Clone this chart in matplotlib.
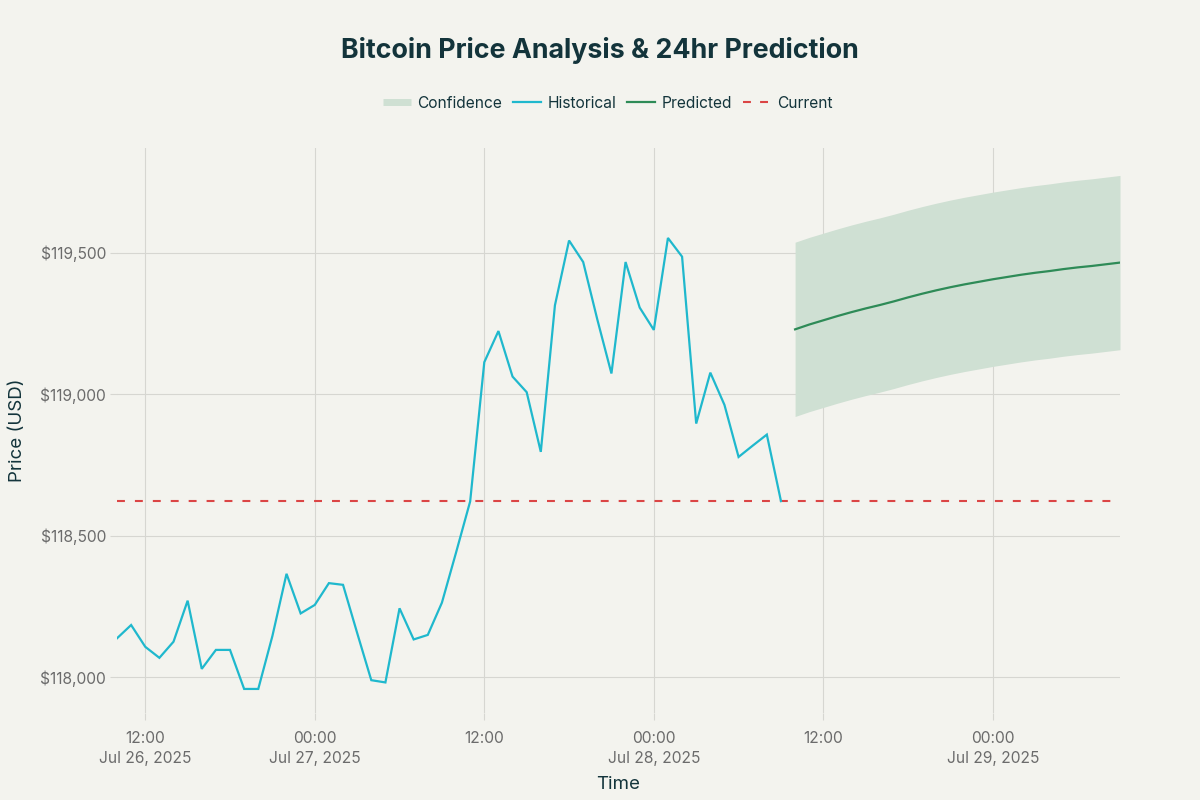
import matplotlib
matplotlib.use("Agg")
import matplotlib.pyplot as plt
from matplotlib.lines import Line2D
import pandas as pd
import numpy as np

# ---------------- data ----------------
hist_start = "2025-07-26 10:00"
hist_prices = [
    118137, 118184, 118107, 118068, 118125, 118270, 118029, 118096, 118096, 117958,
    117958, 118145, 118365, 118225, 118255, 118332, 118326, 118156, 117989, 117981,
    118243, 118133, 118149, 118263, 118440, 118621, 119113, 119223, 119062, 119007,
    118796, 119314, 119543, 119467, 119264, 119073, 119467, 119306, 119227, 119552,
    119486, 118896, 119076, 118962, 118778, 118818, 118857, 118622,
]
pred_start = "2025-07-28 10:00"
pred_prices = [
    119229, 119246, 119261, 119276, 119290, 119303, 119315, 119328, 119342, 119355,
    119367, 119378, 119388, 119397, 119406, 119414, 119422, 119429, 119435, 119442,
    119448, 119453, 119459, 119465,
]
conf_halfwidth = 308
current_price = 118622

tick_times = ["2025-07-26 12:00", "2025-07-27 00:00", "2025-07-27 12:00",
              "2025-07-28 00:00", "2025-07-28 12:00", "2025-07-29 00:00"]
tick_labels = ["12:00\nJul 26, 2025", "00:00\nJul 27, 2025", "12:00",
               "00:00\nJul 28, 2025", "12:00", "00:00\nJul 29, 2025"]
y_ticks = [118000, 118500, 119000, 119500]

title = "Bitcoin Price Analysis & 24hr Prediction"

# ---------------- styles ----------------
BG = "#F3F3EE"
GRID = "#D6D6D1"
C_HIST = "#1FB8CD"
C_PRED = "#2E8B57"
C_CONF = "#CFE0D3"
C_CUR = "#DB4545"
C_TEXT = "#13343B"
C_TICK = "#6B6B6B"

plt.rcParams["font.family"] = ["Inter", "DejaVu Sans"]

hist_t = pd.date_range(hist_start, periods=len(hist_prices), freq="h")
pred_t = pd.date_range(pred_start, periods=len(pred_prices), freq="h")
pred = np.array(pred_prices, dtype=float)
upper = pred + conf_halfwidth
lower = pred - conf_halfwidth

fig = plt.figure(figsize=(12, 8), dpi=100, facecolor=BG)
ax = fig.add_axes([117 / 1200, 1 - 713 / 800, (1120 - 117) / 1200, (713 - 148) / 800])
ax.set_facecolor(BG)

ax.fill_between(pred_t, lower, upper, color=C_CONF, lw=0, zorder=2)
ax.plot(hist_t, hist_prices, color=C_HIST, lw=1.6, zorder=4, solid_joinstyle="miter")
ax.plot(pred_t, pred, color=C_PRED, lw=1.6, zorder=4)
ax.axhline(current_price, color=C_CUR, lw=1.5, dashes=(3.8, 4.8), zorder=3)

ax.set_xlim(hist_t[0], pred_t[-1])
ax.set_ylim(117873, 119870)

ax.set_xticks(pd.to_datetime(tick_times))
ax.set_xticklabels(tick_labels)
ax.set_yticks(y_ticks)
ax.set_yticklabels([f"${v:,.0f}" for v in y_ticks])

ax.grid(True, color=GRID, lw=0.8, zorder=0)
ax.set_axisbelow(True)
for s in ax.spines.values():
    s.set_visible(False)
ax.tick_params(axis="both", colors=GRID, length=5, width=0.8, labelcolor=C_TICK,
               labelsize=11.2)
ax.tick_params(axis="x", pad=8)
ax.tick_params(axis="y", pad=3)
for lab in ax.get_xticklabels():
    lab.set_linespacing(1.45)

ax.set_xlabel("Time", fontsize=13.5, color=C_TEXT, labelpad=7)
ax.set_ylabel("Price (USD)", fontsize=13.5, color=C_TEXT, labelpad=10)

fig.text(0.5, 1 - 50 / 800, title, ha="center", va="center", fontsize=19.3,
         fontweight="bold", color=C_TEXT)

handles = [
    Line2D([], [], color=C_CONF, lw=5, solid_capstyle="butt"),
    Line2D([], [], color=C_HIST, lw=1.6),
    Line2D([], [], color=C_PRED, lw=1.6),
    Line2D([], [], color=C_CUR, lw=1.5, dashes=(3.8, 4.4)),
]
labels = ["Confidence", "Historical", "Predicted", "Current"]
leg = fig.legend(handles, labels, loc="center", bbox_to_anchor=(608 / 1200, 1 - 103 / 800),
                 ncol=4, frameon=False, fontsize=11.2, handlelength=1.8,
                 handletextpad=0.4, columnspacing=0.7)
for t in leg.get_texts():
    t.set_color(C_TEXT)

fig.savefig("out.png", dpi=100, facecolor=BG)
